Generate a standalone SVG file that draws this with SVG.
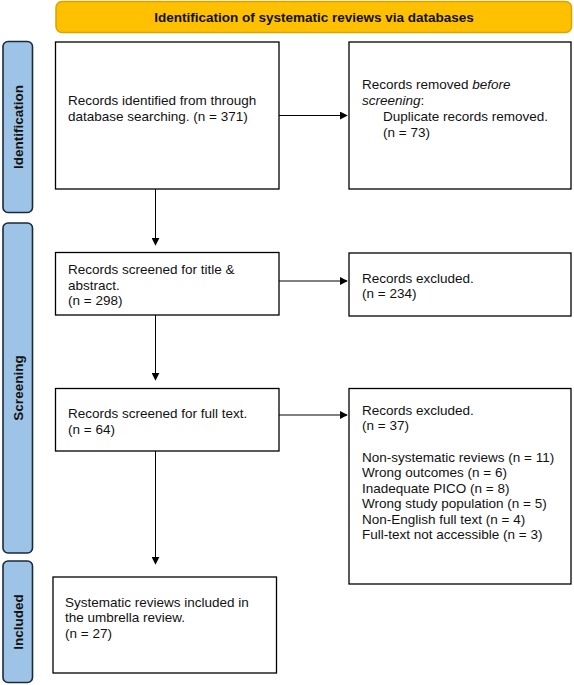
<svg xmlns="http://www.w3.org/2000/svg" width="574" height="685" viewBox="0 0 574 685">
<style>
.box{fill:#fff;stroke:#000;stroke-width:1.3}
.t{font-family:"Liberation Sans",Arial,sans-serif;font-size:13.5px;fill:#111}
.b{font-family:"Liberation Sans",Arial,sans-serif;font-size:13.5px;font-weight:bold;fill:#111}
.side{fill:#9DC3E6;stroke:#1a2a3a;stroke-width:1.6}
.c{stroke:#000;stroke-width:1;fill:none;marker-end:url(#ah)}
</style>
<defs>
<marker id="ah" viewBox="0 0 10 10" refX="9" refY="5" markerWidth="8" markerHeight="8" markerUnits="userSpaceOnUse" orient="auto">
<path d="M0,0 L10,5 L0,10 z" fill="#000"/>
</marker>
</defs>
<rect width="574" height="685" fill="#fff"/>
<g id="banner">
<rect x="56" y="1.5" width="515.5" height="31" rx="6" fill="#FFC000" stroke="#D9A300" stroke-width="1.5"/>
<text class="b" x="314" y="21.8" text-anchor="middle">Identification of systematic reviews via databases</text>
</g>
<g id="lbl-identification">
<rect class="side" x="3" y="41.5" width="29.5" height="171" rx="5"/>
<text class="b" transform="translate(23,127) rotate(-90)" text-anchor="middle">Identification</text>
</g>
<g id="lbl-screening">
<rect class="side" x="3" y="223" width="29.5" height="330" rx="5"/>
<text class="b" transform="translate(23,388) rotate(-90)" text-anchor="middle">Screening</text>
</g>
<g id="lbl-included">
<rect class="side" x="3" y="561" width="29.5" height="121.5" rx="5"/>
<text class="b" transform="translate(23,622) rotate(-90)" text-anchor="middle">Included</text>
</g>
<g id="identified">
<rect class="box" x="55.5" y="42" width="223.5" height="147"/>
<text class="t" x="68" y="105">Records identified from through</text>
<text class="t" x="68" y="120.5">database searching. (n = 371)</text>
</g>
<g id="removed">
<rect class="box" x="349" y="42" width="222" height="147"/>
<text class="t" x="362" y="89">Records removed <tspan font-style="italic">before</tspan></text>
<text class="t" x="362" y="105"><tspan font-style="italic">screening</tspan>:</text>
<text class="t" x="383" y="121">Duplicate records removed.</text>
<text class="t" x="383" y="136.5">(n = 73)</text>
</g>
<g id="screened-ta">
<rect class="box" x="55.5" y="252.5" width="223.5" height="62.5"/>
<text class="t" x="68" y="273.5">Records screened for title &amp;</text>
<text class="t" x="68" y="289.5">abstract.</text>
<text class="t" x="68" y="305">(n = 298)</text>
</g>
<g id="excluded-ta">
<rect class="box" x="349" y="253" width="222" height="63"/>
<text class="t" x="362" y="282.5">Records excluded.</text>
<text class="t" x="362" y="298">(n = 234)</text>
</g>
<g id="screened-ft">
<rect class="box" x="55.5" y="388.5" width="223.5" height="62.5"/>
<text class="t" x="68" y="417.5">Records screened for full text.</text>
<text class="t" x="68" y="433.5">(n = 64)</text>
</g>
<g id="excluded-ft">
<rect class="box" x="349" y="388.5" width="222" height="195.5"/>
<text class="t" x="362" y="414.5">Records excluded.</text>
<text class="t" x="362" y="430">(n = 37)</text>
<text class="t" x="362" y="461.5">Non-systematic reviews (n = 11)</text>
<text class="t" x="362" y="477">Wrong outcomes (n = 6)</text>
<text class="t" x="362" y="492.5">Inadequate PICO (n = 8)</text>
<text class="t" x="362" y="508">Wrong study population (n = 5)</text>
<text class="t" x="362" y="523.5">Non-English full text (n = 4)</text>
<text class="t" x="362" y="539">Full-text not accessible (n = 3)</text>
</g>
<g id="included">
<rect class="box" x="53" y="577" width="223.5" height="96"/>
<text class="t" x="65" y="606.5">Systematic reviews included in</text>
<text class="t" x="65" y="622">the umbrella review.</text>
<text class="t" x="65" y="637.5">(n = 27)</text>
</g>
<g id="connectors">
<line class="c" x1="155.5" y1="189" x2="155.5" y2="245"/>
<line class="c" x1="155.5" y1="315" x2="155.5" y2="380"/>
<line class="c" x1="155.5" y1="451" x2="155.5" y2="564"/>
<line class="c" x1="279" y1="115.5" x2="347" y2="115.5"/>
<line class="c" x1="279" y1="281" x2="347" y2="281"/>
<line class="c" x1="279" y1="415" x2="347" y2="415"/>
</g>
</svg>
